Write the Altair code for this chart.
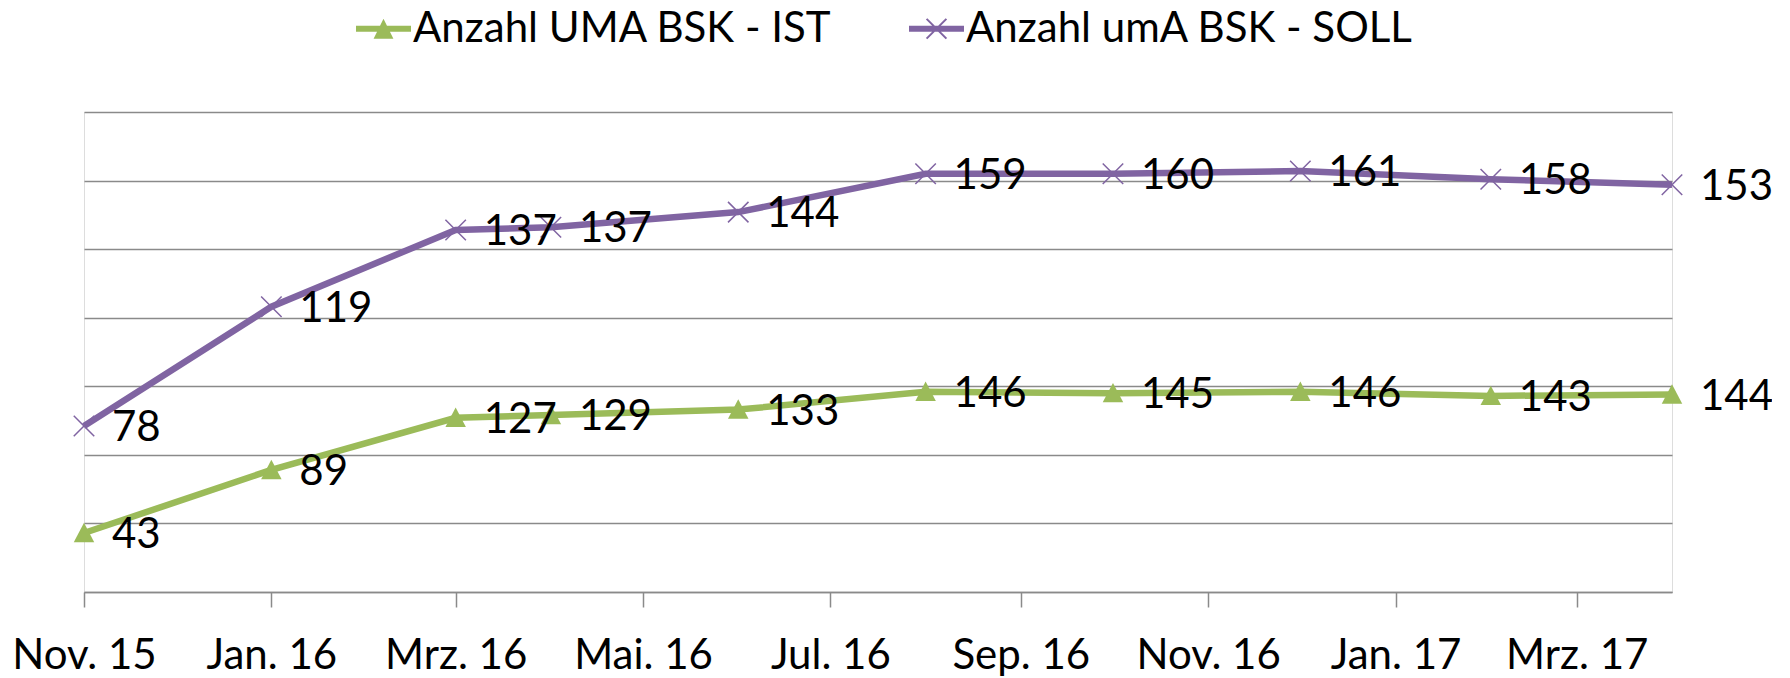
import json
import altair as alt
import pandas as pd

# ---- data ----
months = ["2015-11-01", "2016-01-01", "2016-03-01", "2016-04-01", "2016-06-01",
          "2016-08-01", "2016-10-01", "2016-12-01", "2017-02-01", "2017-04-01"]
ist = [43, 89, 127, 129, 133, 146, 145, 146, 143, 144]
soll = [78, 119, 137, 137, 144, 159, 160, 161, 158, 153]
series_names = ["Anzahl UMA BSK - IST", "Anzahl umA BSK - SOLL"]
tick_dates = ["2015-11-01", "2016-01-01", "2016-03-01", "2016-05-01", "2016-07-01",
              "2016-09-01", "2016-11-01", "2017-01-01", "2017-03-01"]
tick_labels = ["Nov. 15", "Jan. 16", "Mrz. 16", "Mai. 16", "Jul. 16",
               "Sep. 16", "Nov. 16", "Jan. 17", "Mrz. 17"]
axis_start = "2015-11-01"
axis_end = "2017-04-01"
y_max = 350
y_step = 50
colors = ["#9BBB59", "#8064A2"]

FONT = "Lato"
FS = 42
GRID = "#8a8a8a"


def ms(s):
    return int(pd.Timestamp(s, tz="UTC").timestamp() * 1000)


rows = []
for order, (name, vals) in enumerate(zip(series_names, [ist, soll])):
    for m, v in zip(months, vals):
        rows.append({"date": ms(m), "series": name, "value": v, "order": order})
df = pd.DataFrame(rows)

tick_ms = [ms(t) for t in tick_dates]
label_expr = f"{json.dumps(tick_labels)}[indexof({json.dumps(tick_ms)}, time(datum.value))]"

x_enc = alt.X(
    "date:T",
    scale=alt.Scale(type="utc", domain=[ms(axis_start), ms(axis_end)]),
    axis=alt.Axis(
        values=tick_ms, labelExpr=label_expr, title=None, grid=False,
        domainColor=GRID, domainWidth=1.5, tickColor=GRID, tickWidth=1.5, tickSize=15,
        labelFont=FONT, labelFontSize=FS, labelColor="black", labelPadding=48,
        labelBaseline="middle", labelAlign="center", labelOverlap=False, labelFlush=False,
    ),
)
y_enc = alt.Y(
    "y1:Q",
    scale=alt.Scale(domain=[0, y_max], nice=False, zero=True),
    axis=alt.Axis(
        values=list(range(0, y_max + 1, y_step)), labels=False, ticks=False, domain=False,
        title=None, grid=True, gridColor=GRID, gridWidth=1.5,
    ),
)

# legend symbols: a thick line segment with the series marker on it (all filled paths)
path_line = "M-1,-0.11H1V0.11H-1Z"
path_ist = path_line + " M0,-0.36L0.36,0.36L-0.36,0.36Z"
path_soll = (path_line +
             " M-0.334,-0.386L0.386,0.334L0.334,0.386L-0.386,-0.334Z"
             " M-0.386,0.334L0.334,-0.386L0.386,-0.334L-0.334,0.386Z")

legend = alt.Legend(
    orient="none", legendX=272, legendY=-111, direction="horizontal", title=None,
    symbolSize=3025, labelFont=FONT, labelFontSize=FS, labelColor="black", labelLimit=0,
    labelOffset=2, columnPadding=76, padding=0, symbolStrokeWidth=0, symbolOpacity=1,
)

base = alt.Chart(df).transform_stack(
    stack="value", groupby=["date"], as_=["y0", "y1"],
    sort=[alt.SortField("order", order="ascending")],
)

legend_layer = base.transform_filter("false").mark_point(filled=True, opacity=1).encode(
    x=x_enc, y=y_enc,
    color=alt.Color("series:N", scale=alt.Scale(domain=series_names, range=colors), legend=legend),
    shape=alt.Shape("series:N", scale=alt.Scale(domain=series_names, range=[path_ist, path_soll]),
                    legend=legend),
)

line_ist = base.transform_filter(alt.datum.series == series_names[0]).mark_line(
    strokeWidth=6.5, color=colors[0]).encode(x=x_enc, y=y_enc)
line_soll = base.transform_filter(alt.datum.series == series_names[1]).mark_line(
    strokeWidth=6.5, color=colors[1]).encode(x=x_enc, y=y_enc)

tri = base.transform_filter(alt.datum.series == series_names[0]).mark_point(
    shape="M0,-1L1,0.9L-1,0.9Z", filled=True, size=420, color=colors[0], opacity=1,
).encode(x=x_enc, y=y_enc)

crs = base.transform_filter(alt.datum.series == series_names[1]).mark_point(
    shape="M-1,-1L1,1M-1,1L1,-1", filled=False, size=420, color=colors[1],
    strokeWidth=1.5, opacity=1,
).encode(x=x_enc, y=y_enc)

labels = base.mark_text(
    align="left", baseline="middle", dx=28, dy=2, font=FONT, fontSize=FS, color="black",
).encode(x=x_enc, y=y_enc, text="value:Q")

chart = alt.layer(line_ist, line_soll, tri, crs, labels, legend_layer).properties(
    width=1588, height=480,
    autosize=alt.AutoSizeParams(type="none"),
    padding={"left": 76, "top": 104, "right": 100, "bottom": 84},
).configure_view(stroke=None).configure(background="white")

chart.save("out.html", embed_options={"renderer": "svg", "actions": False})
